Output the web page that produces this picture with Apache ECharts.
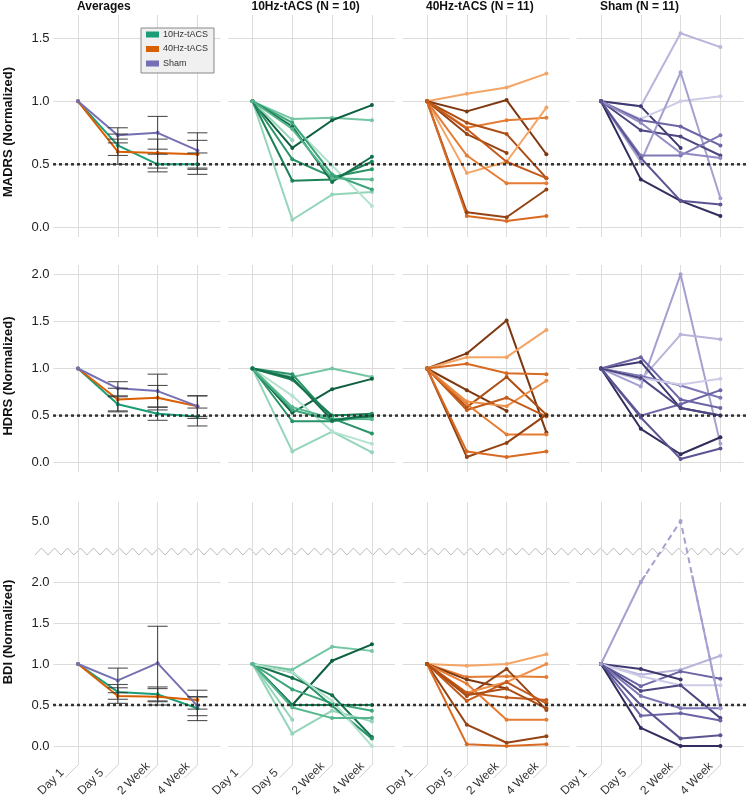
<!DOCTYPE html>
<html><head><meta charset="utf-8">
<script src="https://cdn.jsdelivr.net/npm/echarts@6/dist/echarts.min.js"></script>
<style>html,body{margin:0;padding:0;background:#fff}#c{width:747px;height:801px}</style>
</head><body><div id="c"></div>
<script>
// ---------------- DATA ----------------
const categories = ['Day 1', 'Day 5', '2 Week', '4 Week'];
const panelTitles = ['Averages', '10Hz-tACS (N = 10)', '40Hz-tACS (N = 11)', 'Sham (N = 11)'];
const scaleNames = ['MADRS (Normalized)', 'HDRS (Normalized)', 'BDI (Normalized)'];
const groupNames = ['10Hz-tACS', '40Hz-tACS', 'Sham'];
const madrsTicks = [0, 0.5, 1.0, 1.5];
const hdrsTicks = [0, 0.5, 1.0, 1.5, 2.0];
const bdiTicks = [0, 0.5, 1.0, 1.5, 2.0];
const bdiBreakTick = 5.0;
const threshold = 0.5;

// Averages (mean, lower / upper error)
const madrsMean10 = [1.00, 0.65, 0.50, 0.50];
const madrsMean40 = [1.00, 0.60, 0.59, 0.58];
const madrsMeanSham = [1.00, 0.73, 0.75, 0.61];
const madrsLo10 = [null, 0.57, 0.44, 0.42], madrsHi10 = [null, 0.74, 0.58, 0.59];
const madrsLo40 = [null, 0.50, 0.47, 0.47], madrsHi40 = [null, 0.70, 0.70, 0.69];
const madrsLoSham = [null, 0.67, 0.62, 0.46], madrsHiSham = [null, 0.79, 0.88, 0.75];

const hdrsMean10 = [1.00, 0.62, 0.52, 0.49];
const hdrsMean40 = [1.00, 0.67, 0.69, 0.60];
const hdrsMeanSham = [1.00, 0.79, 0.76, 0.60];
const hdrsLo10 = [null, 0.54, 0.45, 0.39], hdrsHi10 = [null, 0.70, 0.59, 0.58];
const hdrsLo40 = [null, 0.55, 0.56, 0.49], hdrsHi40 = [null, 0.79, 0.82, 0.71];
const hdrsLoSham = [null, 0.71, 0.59, 0.47], hdrsHiSham = [null, 0.86, 0.94, 0.71];

const bdiMean10 = [1.00, 0.66, 0.63, 0.46];
const bdiMean40 = [1.00, 0.61, 0.60, 0.56];
const bdiMeanSham = [1.00, 0.80, 1.01, 0.49];
const bdiLo10 = [null, 0.57, 0.54, 0.31], bdiHi10 = [null, 0.75, 0.72, 0.60];
const bdiLo40 = [null, 0.52, 0.50, 0.45], bdiHi40 = [null, 0.71, 0.70, 0.68];
const bdiLoSham = [null, 0.65, 0.55, 0.37], bdiHiSham = [null, 0.95, 1.46, 0.60];

// Individual participants [Day 1, Day 5, 2 Week, 4 Week]
const madrs10 = [
  [1, 0.86, 0.87, 0.85], [1, 0.63, 0.85, 0.97], [1, 0.06, 0.26, 0.28], [1, 0.81, 0.49, 0.17],
  [1, 0.69, null, null], [1, 0.54, 0.40, 0.46], [1, 0.37, 0.38, 0.52], [1, 0.83, 0.42, 0.30],
  [1, 0.80, 0.36, 0.56], [1, 0.78, 0.39, 0.38]];
const madrs40 = [
  [1, 1.06, 1.11, 1.22], [1, 0.92, 1.01, 0.58], [1, 0.79, 0.85, 0.87], [1, 0.83, 0.74, 0.39],
  [1, 0.74, 0.59, null], [1, 0.43, 0.52, 0.95], [1, 0.57, 0.35, 0.35], [1, 0.12, 0.08, 0.30],
  [1, 0.09, 0.05, 0.09], [1, 0.78, 0.52, 0.39]];
const madrsSham = [
  [1, 0.96, 1.54, 1.43], [1, 0.96, 0.63, null], [1, 0.86, 1.00, 1.04], [1, 0.52, 1.23, 0.23],
  [1, 0.85, 0.80, 0.65], [1, 0.77, 0.72, 0.57], [1, 0.57, 0.57, 0.73], [1, 0.83, 0.59, 0.55],
  [1, 0.38, 0.21, 0.09], [1, 0.55, 0.21, 0.18]];
const hdrs10 = [
  [1, 0.91, 1.00, 0.91], [1, 0.53, 0.78, 0.89], [1, 0.12, 0.33, 0.11], [1, 0.71, 0.33, 0.20],
  [1, 0.94, 0.47, 0.31], [1, 0.88, 0.50, 0.52], [1, 0.56, 0.45, 0.51], [1, 0.44, 0.44, 0.49],
  [1, 0.59, 0.47, 0.46], [1, 0.90, 0.45, 0.50]];
const hdrs40 = [
  [1, 1.16, 1.51, 0.32], [1, 1.12, 1.12, 1.41], [1, 1.05, 0.95, 0.94], [1, 0.77, 0.55, null],
  [1, 0.59, 0.91, 0.51], [1, 0.65, 0.60, 0.87], [1, 0.56, 0.69, 0.49], [1, 0.62, 0.30, 0.30],
  [1, 0.06, 0.21, 0.51], [1, 0.12, 0.06, 0.12]];
const hdrsSham = [
  [1, 0.81, 2.00, 0.20], [1, 0.88, 1.36, 1.31], [1, 1.07, 0.58, 0.50], [1, 1.12, 0.67, 0.58],
  [1, 0.92, 0.82, 0.69], [1, 0.90, 0.83, 0.89], [1, 0.50, 0.62, 0.77], [1, 0.36, 0.09, 0.27],
  [1, 0.48, 0.04, 0.15], [1, 0.90, 0.58, 0.50]];
const bdi10 = [
  [1, 0.93, 1.21, 1.16], [1, 0.50, 1.04, 1.24], [1, 0.83, 0.62, 0.11], [1, 0.50, 0.50, 0.50],
  [1, 0.15, 0.43, 0.30], [1, 0.69, 0.52, 0.43], [1, 0.32, null, null], [1, 0.90, 0.49, 0.09],
  [1, 0.90, 0.55, 0.00], [1, 0.47, 0.34, 0.34]];
const bdi40 = [
  [1, 0.98, 1.00, 1.12], [1, 0.84, 0.85, 0.84], [1, 0.81, 0.70, null], [1, 0.61, 0.94, 0.44],
  [1, 0.65, 0.78, 1.00], [1, 0.55, 0.78, 0.52], [1, 0.76, 0.32, 0.32], [1, 0.26, 0.04, 0.12],
  [1, 0.02, 0.00, 0.02], [1, 0.65, 0.59, 0.56], [1, 0.62, 0.70, 0.46]];
const bdiSham = [
  [1, 0.87, 0.93, 1.10], [1, 0.73, 0.91, 0.82], [1, 0.94, 0.81, null], [1, 0.85, 0.74, 0.74],
  [1, 0.67, 0.74, 0.34], [1, 0.61, 0.46, 0.46], [1, 0.37, 0.40, 0.31], [1, 0.22, 0.00, 0.00],
  [1, 0.50, 0.09, 0.13]];
const bdiShamOutlier = [1, 2.0, 5.0, 0.46];

// shade index per participant line (0 = lightest)
const madrs10Shade = [2, 8, 1, 0, 1, 5, 6, 4, 7, 3];
const madrs40Shade = [1, 8, 3, 6, 7, 1, 3, 7, 4, 5];
const madrsShamShade = [1, 8, 0, 2, 5, 7, 4, 3, 9, 6];
const hdrs10Shade = [2, 8, 1, 0, 5, 6, 4, 5, 3, 7];
const hdrs40Shade = [8, 1, 4, 8, 6, 2, 5, 3, 7, 4];
const hdrsShamShade = [2, 1, 8, 5, 4, 0, 5, 9, 6, 7];
const bdi10Shade = [2, 8, 7, 6, 1, 4, 1, 5, 0, 3];
const bdi40Shade = [1, 3, 8, 7, 2, 5, 3, 7, 4, 5, 6];
const bdiShamShade = [1, 5, 8, 0, 7, 4, 5, 9, 6];
const bdiOutlierShade = 2;

// ---------------- STYLE / LAYOUT ----------------
const FONT = '"Liberation Sans", Arial, Helvetica, sans-serif';
const groupColors = ['#1b9e77', '#d95f02', '#7570b3'];
const greens = ['#b4e2ce', '#94d4b9', '#74c6a3', '#56b78e', '#3ba67a', '#289467', '#1d8258', '#15714b', '#0e603f', '#084f33'];
const oranges = ['#f8bd8a', '#f4a565', '#ee9049', '#e57c33', '#d96a22', '#c45b1a', '#ad4e15', '#954313', '#7e3810', '#6a2e0d'];
const purples = ['#cdcbe7', '#b8b5db', '#a4a0cf', '#908bc2', '#7d77b5', '#6b64a5', '#5b5493', '#4c4681', '#3e396f', '#312d5d'];
const GRID_COLOR = '#dcdcdc';
const CAT1 = [78, 252.5, 427, 601];
const STEP = 39.8;
const BG_PAD = 24.5, BG_W = 167;
const rowLayout = [
  {zero: 227.3, ppu: 126, vTop: 15, vBot: 237, nameY: 132},
  {zero: 462.7, ppu: 94.2, vTop: 265, vBot: 472, nameY: 376},
  {zero: 746, ppu: 82, vTop: 502, vBot: 765, nameY: 632}
];
const rowTicks = [madrsTicks, hdrsTicks, bdiTicks];
const BREAK_GAP = 0.744;   // axis units between 2.0 and the 5.0 tick
const breakMap = v => v >= bdiBreakTick ? bdiTicks[bdiTicks.length - 1] + BREAK_GAP + (v - bdiBreakTick) : v;
const LEADER = 13;

const grids = [], xAxes = [], yAxes = [], series = [];
function addGrid(g, x, y) {
  g.outerBoundsMode = 'none'; g.containLabel = false;
  grids.push(g); const gi = grids.length - 1;
  x.gridIndex = gi; y.gridIndex = gi; xAxes.push(x); yAxes.push(y);
  return gi;
}
function errRender(params, api) {
  const x = api.value(0), lo = api.value(1), hi = api.value(2);
  const a = api.coord([x, lo]), b = api.coord([x, hi]);
  const hw = 10, st = {stroke: '#333', lineWidth: 1.1, opacity: 0.85};
  return {type: 'group', children: [
    {type: 'line', shape: {x1: a[0], y1: a[1], x2: b[0], y2: b[1]}, style: st},
    {type: 'line', shape: {x1: a[0] - hw, y1: a[1], x2: a[0] + hw, y2: a[1]}, style: st},
    {type: 'line', shape: {x1: b[0] - hw, y1: b[1], x2: b[0] + hw, y2: b[1]}, style: st}
  ]};
}
function lineSeries(gi, vals, color, width, extra) {
  return Object.assign({
    type: 'line', xAxisIndex: gi, yAxisIndex: gi, data: vals, symbol: 'circle', symbolSize: 4,
    showSymbol: true, connectNulls: false, clip: false, silent: true, z: 2,
    lineStyle: {width: width, color: color}, itemStyle: {color: color}
  }, extra || {});
}

const means = [
  [madrsMean10, madrsMean40, madrsMeanSham],
  [hdrsMean10, hdrsMean40, hdrsMeanSham],
  [bdiMean10, bdiMean40, bdiMeanSham]];
const los = [
  [madrsLo10, madrsLo40, madrsLoSham], [hdrsLo10, hdrsLo40, hdrsLoSham], [bdiLo10, bdiLo40, bdiLoSham]];
const his = [
  [madrsHi10, madrsHi40, madrsHiSham], [hdrsHi10, hdrsHi40, hdrsHiSham], [bdiHi10, bdiHi40, bdiHiSham]];
const indiv = [
  [[madrs10, madrs10Shade, greens], [madrs40, madrs40Shade, oranges], [madrsSham, madrsShamShade, purples]],
  [[hdrs10, hdrs10Shade, greens], [hdrs40, hdrs40Shade, oranges], [hdrsSham, hdrsShamShade, purples]],
  [[bdi10, bdi10Shade, greens], [bdi40, bdi40Shade, oranges], [bdiSham, bdiShamShade, purples]]];

const graphics = [];
rowLayout.forEach((L, r) => {
  const ticks = rowTicks[r];
  const tmin = ticks[0], tmax = ticks[ticks.length - 1], tint = ticks[1] - ticks[0];
  const fgMin = -(L.vBot - L.zero) / L.ppu, fgMax = (L.zero - L.vTop) / L.ppu;
  for (let p = 0; p < 4; p++) {
    // background grid: horizontal grid lines + tick labels
    addGrid({left: CAT1[p] - BG_PAD, top: L.zero - tmax * L.ppu, width: BG_W, height: (tmax - tmin) * L.ppu},
      {type: 'category', data: categories, show: false},
      {type: 'value', min: tmin, max: tmax, interval: tint,
        axisLine: {show: false}, axisTick: {show: false},
        axisLabel: {show: p === 0, margin: 4, fontSize: 13, color: '#222', fontFamily: FONT,
          formatter: v => v.toFixed(1)},
        splitLine: {show: true, lineStyle: {color: GRID_COLOR, width: 1}}});
    // foreground grid: vertical lines + data
    const fg = addGrid({left: CAT1[p], top: L.vTop, width: 3 * STEP, height: L.vBot - L.vTop},
      {type: 'category', data: categories, boundaryGap: false,
        axisLine: {show: false}, axisTick: {show: false}, axisLabel: {show: false},
        splitLine: {show: true, interval: 0, lineStyle: {color: GRID_COLOR, width: 1}}},
      {type: 'value', min: fgMin, max: fgMax, show: false});
    const map = r === 2 ? breakMap : (v => v);
    if (p === 0) {
      for (let g = 0; g < 3; g++) {
        series.push(lineSeries(fg, means[r][g].map(map), groupColors[g], 2, {name: groupNames[g], z: 3}));
        const ed = [];
        los[r][g].forEach((lo, i) => { if (lo != null) ed.push([i, lo, his[r][g][i]]); });
        series.push({type: 'custom', xAxisIndex: fg, yAxisIndex: fg, data: ed, renderItem: errRender,
          encode: {x: 0, y: [1, 2]}, silent: true, z: 4, clip: false});
      }
    } else {
      const [lines, shades, pal] = indiv[r][p - 1];
      lines.forEach((vals, k) => series.push(lineSeries(fg, vals.map(v => v == null ? null : map(v)), pal[shades[k]], 2)));
      if (r === 2 && p === 3) {
        const col = purples[bdiOutlierShade];
        const mapped = bdiShamOutlier.map(breakMap);
        // dashed everywhere from Day 5 on; solid copy clipped below the break
        series.push(lineSeries(fg, mapped.map((v, i) => i === 0 ? null : v), col, 2,
          {lineStyle: {width: 2, color: col, type: [6, 4]}}));
        const clipMax = bdiTicks[bdiTicks.length - 1] + 0.07;
        const cg = addGrid({left: CAT1[p], top: L.zero - clipMax * L.ppu, width: 3 * STEP, height: L.vBot - (L.zero - clipMax * L.ppu)},
          {type: 'category', data: categories, boundaryGap: false, show: false},
          {type: 'value', min: fgMin, max: clipMax, show: false});
        series.push(lineSeries(cg, mapped, col, 2, {clip: true}));
      }
    }
    if (r === 2) {
      // slanted leaders from the vertical lines toward the rotated labels
      series.push({type: 'custom', xAxisIndex: fg, yAxisIndex: fg, silent: true, clip: false, z: 1,
        data: categories.map((c, i) => [i, fgMin]), encode: {x: 0, y: 1},
        renderItem: (params, api) => {
          const pt = api.coord([api.value(0), api.value(1)]);
          return {type: 'line', shape: {x1: pt[0], y1: pt[1], x2: pt[0] - LEADER, y2: pt[1] + LEADER},
            style: {stroke: '#cfcfcf', lineWidth: 1}};
        }});
      // rotated category labels, anchored at their start
      addGrid({left: CAT1[p] - 38, top: L.vBot + 20, width: 3 * STEP, height: 1},
        {type: 'category', data: categories, boundaryGap: false, position: 'bottom',
          axisLine: {show: false}, axisTick: {show: false}, splitLine: {show: false},
          axisLabel: {show: true, interval: 0, rotate: 45, margin: 7, align: 'left', verticalAlign: 'middle',
            fontSize: 12, color: '#333', fontFamily: FONT}},
        {type: 'value', min: 0, max: 1, show: false});
    }
  }
  // threshold dotted line spanning the whole row
  const ov = addGrid({left: 53, top: L.zero - tmax * L.ppu, width: 694, height: (tmax - tmin) * L.ppu},
    {type: 'value', min: 0, max: 1, show: false},
    {type: 'value', min: tmin, max: tmax, show: false});
  series.push({type: 'line', xAxisIndex: ov, yAxisIndex: ov, data: [[0, threshold], [1, threshold]],
    symbol: 'none', silent: true, z: 6, clip: false,
    lineStyle: {color: '#333', width: 2.5, type: [3, 3]}});
  graphics.push({type: 'text', x: 8, y: L.nameY, rotation: Math.PI / 2,
    style: {text: scaleNames[r], font: 'bold 13px ' + FONT, align: 'center', verticalAlign: 'middle',
      textAlign: 'center', textVerticalAlign: 'middle', fill: '#111'}});
});

// axis break: zigzag and the 5.0 tick label
const L3 = rowLayout[2];
const zzY = L3.zero - (bdiTicks[bdiTicks.length - 1] + BREAK_GAP / 2) * L3.ppu;
const zz = [];
for (let x = 35, k = 0; x <= 747; x += 6.5, k++) zz.push([x, zzY + (k % 2 ? -3.5 : 3.5)]);
graphics.push({type: 'polyline', shape: {points: zz}, style: {stroke: '#bdbdbd', lineWidth: 1, fill: null}, silent: true});
graphics.push({type: 'text', x: 49.5, y: L3.zero - breakMap(bdiBreakTick) * L3.ppu,
  style: {text: bdiBreakTick.toFixed(1), font: '13px ' + FONT, align: 'right', verticalAlign: 'middle',
    textAlign: 'right', textVerticalAlign: 'middle', fill: '#222'}});

const chart = echarts.init(document.getElementById('c'), null, {renderer: 'canvas'});
chart.setOption({
  animation: false,
  backgroundColor: '#fff',
  title: panelTitles.map((t, p) => ({text: t, left: CAT1[p] - 1, top: 1, padding: 0,
    textStyle: {fontSize: 12, fontWeight: 'bold', color: '#111', fontFamily: FONT}})),
  legend: {data: groupNames, orient: 'vertical', left: 141, top: 28, padding: [1, 6, 4, 5], itemGap: 3.5,
    itemWidth: 13, itemHeight: 6, icon: 'rect', backgroundColor: '#f0f0f0', borderColor: '#888',
    borderWidth: 1, borderRadius: 0, selectedMode: false,
    textStyle: {fontSize: 9, lineHeight: 11, color: '#333', fontFamily: FONT, padding: [0, 0, 0, -1]}},
  grid: grids, xAxis: xAxes, yAxis: yAxes, series: series, graphic: graphics
});
</script></body></html>
